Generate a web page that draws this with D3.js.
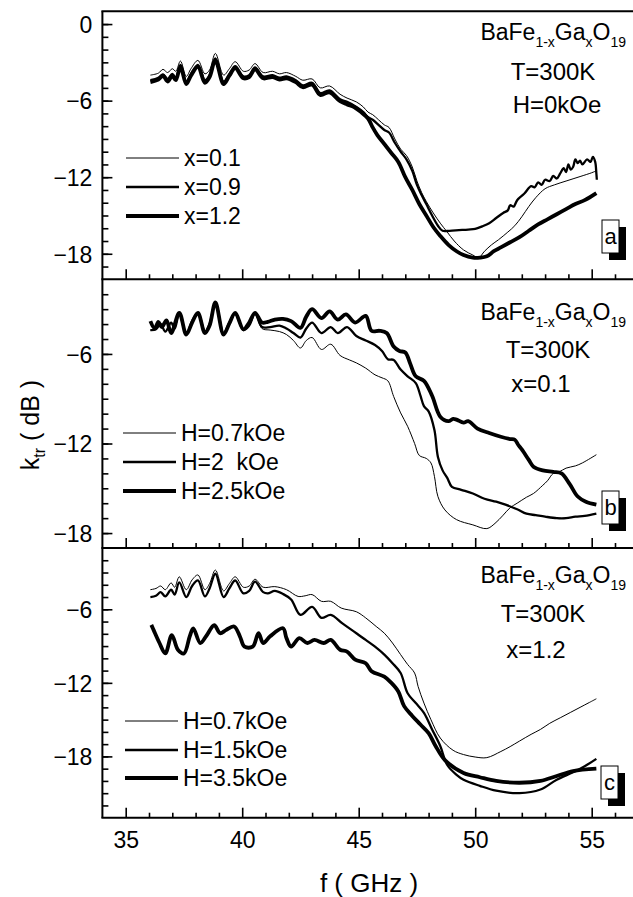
<!DOCTYPE html>
<html><head><meta charset="utf-8">
<script src="https://cdn.jsdelivr.net/npm/d3@7"></script>
<style>body{margin:0;background:#fff}svg text{font-family:"Liberation Sans",Arial,sans-serif;fill:#000}</style>
</head><body>
<svg id="chart" width="633" height="897"></svg>
<script>
// ---------------- DATA ----------------
const xTickValues = [35, 40, 45, 50, 55];
const xMinorTicks = d3.range(35, 57, 1);
const yTicksA = [0, -6, -12, -18];
const yTicksB = [-6, -12, -18];
const yTicksC = [-6, -12, -18];

const legendA = ["x=0.1", "x=0.9", "x=1.2"];
const legendB = ["H=0.7kOe", "H=2  kOe", "H=2.5kOe"];
const legendC = ["H=0.7kOe", "H=1.5kOe", "H=3.5kOe"];
const thirdLineA = "H=0kOe";
const thirdLineB = "x=0.1";
const thirdLineC = "x=1.2";
const panelLetters = ["a", "b", "c"];

// Panel a : H = 0 kOe
const a_x01 = [[36.06,-4.0],[36.4,-3.85],[36.6,-3.55],[36.8,-3.8],[37.0,-3.5],[37.15,-3.7],[37.35,-2.9],[37.6,-4.1],[37.8,-3.5],[38.1,-2.85],[38.4,-3.9],[38.6,-3.6],[38.85,-2.3],[39.2,-4.0],[39.45,-3.5],[39.7,-2.95],[40.05,-3.7],[40.3,-3.6],[40.55,-3.1],[40.9,-3.8],[41.3,-3.7],[41.6,-3.9],[41.9,-3.8],[42.3,-4.1],[42.6,-4.4],[43.0,-4.3],[43.35,-5.0],[43.75,-4.85],[44.2,-5.5],[44.5,-5.8],[44.9,-6.1],[45.2,-6.5],[45.4,-6.9],[45.6,-7.1],[45.85,-7.5],[46.1,-7.9],[46.3,-8.1],[46.55,-9.0],[46.8,-9.8],[47.05,-10.3],[47.3,-11.2],[47.5,-12.3],[47.7,-13.2],[47.9,-13.9],[48.2,-14.8],[48.5,-15.6],[48.8,-16.3],[49.1,-17.0],[49.5,-17.7],[49.9,-18.1],[50.15,-18.3],[50.4,-17.8],[50.7,-17.3],[51.0,-16.9],[51.4,-16.3],[51.7,-15.8],[52.0,-15.1],[52.3,-14.3],[52.6,-13.6],[53.0,-12.9],[53.4,-12.6],[53.9,-12.3],[54.5,-11.95],[55.0,-11.65],[55.2,-11.5]];
const a_x09 = [[36.06,-4.4],[36.4,-4.2],[36.6,-3.95],[36.8,-4.3],[37.0,-3.9],[37.15,-4.2],[37.35,-3.2],[37.6,-4.5],[37.8,-3.9],[38.1,-3.2],[38.4,-4.4],[38.6,-4.0],[38.85,-2.7],[39.2,-4.5],[39.45,-3.9],[39.7,-3.3],[40.05,-4.1],[40.3,-4.0],[40.55,-3.4],[40.9,-4.1],[41.3,-4.0],[41.6,-4.2],[41.9,-4.1],[42.3,-4.4],[42.6,-4.8],[43.0,-4.6],[43.35,-5.4],[43.75,-5.2],[44.2,-5.9],[44.5,-6.1],[44.9,-6.5],[45.2,-6.9],[45.4,-7.3],[45.6,-7.5],[45.85,-7.9],[46.1,-8.3],[46.3,-8.5],[46.55,-9.3],[46.8,-10.0],[47.05,-10.6],[47.3,-11.5],[47.5,-12.6],[47.7,-13.4],[47.9,-14.1],[48.15,-15.0],[48.4,-15.8],[48.6,-16.2],[48.9,-16.2],[49.3,-16.15],[49.7,-16.1],[50.0,-16.05],[50.3,-15.85],[50.6,-15.6],[50.9,-15.2],[51.2,-14.8],[51.4,-14.6],[51.5,-14.2],[51.65,-14.3],[51.8,-13.8],[52.1,-13.3],[52.4,-12.7],[52.55,-12.8],[52.7,-12.4],[52.85,-12.6],[53.0,-12.2],[53.2,-12.3],[53.35,-11.9],[53.5,-12.1],[53.65,-11.7],[53.8,-11.3],[53.9,-11.6],[54.0,-11.0],[54.1,-11.4],[54.2,-11.2],[54.3,-10.6],[54.4,-10.9],[54.5,-10.7],[54.6,-11.0],[54.8,-10.6],[54.95,-10.8],[55.05,-10.4],[55.15,-10.8],[55.2,-11.7],[55.22,-12.2]];
const a_x12 = [[36.06,-4.55],[36.4,-4.35],[36.6,-4.05],[36.8,-4.5],[37.0,-4.05],[37.15,-4.4],[37.35,-3.35],[37.6,-4.7],[37.8,-4.05],[38.1,-3.35],[38.4,-4.6],[38.6,-4.15],[38.85,-2.85],[39.2,-4.7],[39.45,-4.05],[39.7,-3.45],[40.05,-4.25],[40.3,-4.15],[40.55,-3.55],[40.9,-4.25],[41.3,-4.15],[41.6,-4.35],[41.9,-4.25],[42.3,-4.55],[42.6,-4.95],[43.0,-4.75],[43.35,-5.55],[43.75,-5.35],[44.2,-6.05],[44.5,-6.3],[44.8,-6.5],[45.1,-6.9],[45.4,-7.4],[45.6,-8.1],[45.8,-8.7],[46.1,-9.4],[46.4,-10.1],[46.7,-10.8],[47.0,-12.0],[47.3,-13.0],[47.6,-14.1],[47.9,-15.0],[48.2,-15.9],[48.5,-16.6],[48.85,-17.3],[49.2,-17.8],[49.5,-18.1],[49.9,-18.3],[50.2,-18.3],[50.5,-18.2],[50.8,-17.8],[51.1,-17.5],[51.5,-17.1],[51.9,-16.7],[52.3,-16.2],[52.7,-15.7],[53.1,-15.3],[53.5,-14.9],[53.9,-14.5],[54.3,-14.1],[54.7,-13.8],[55.2,-13.25]];

// Panel b : x = 0.1
const b_h07 = [[36.06,-4.4],[36.3,-4.35],[36.5,-4.0],[36.7,-4.5],[36.95,-3.9],[37.1,-4.3],[37.3,-3.3],[37.6,-4.7],[37.85,-3.8],[38.1,-3.25],[38.4,-4.5],[38.6,-4.0],[38.85,-2.55],[39.2,-4.6],[39.45,-3.9],[39.7,-3.3],[40.05,-4.4],[40.3,-4.1],[40.55,-3.3],[40.85,-4.3],[41.2,-4.4],[41.6,-4.5],[41.9,-4.7],[42.2,-5.1],[42.5,-5.6],[42.75,-5.1],[43.0,-4.9],[43.4,-5.7],[43.8,-5.35],[44.2,-6.1],[44.6,-6.4],[44.9,-6.6],[45.3,-6.95],[45.7,-7.4],[46.0,-7.6],[46.25,-7.8],[46.5,-8.85],[46.8,-9.95],[47.1,-10.85],[47.4,-12.0],[47.6,-12.8],[47.9,-13.0],[48.1,-13.3],[48.25,-14.2],[48.4,-15.55],[48.7,-16.45],[49.2,-17.1],[49.9,-17.45],[50.5,-17.7],[50.85,-17.35],[51.2,-16.8],[51.5,-16.3],[51.8,-16.0],[52.2,-15.6],[52.5,-15.35],[52.9,-14.8],[53.1,-14.5],[53.35,-14.0],[53.6,-13.9],[53.9,-13.65],[54.3,-13.5],[54.6,-13.3],[55.2,-12.75]];
const b_h2 = [[36.06,-4.4],[36.3,-4.35],[36.5,-4.0],[36.7,-4.5],[36.95,-3.9],[37.1,-4.3],[37.3,-3.3],[37.6,-4.7],[37.85,-3.8],[38.1,-3.25],[38.4,-4.5],[38.6,-4.0],[38.85,-2.55],[39.2,-4.6],[39.45,-3.9],[39.7,-3.3],[40.05,-4.4],[40.3,-4.1],[40.55,-3.3],[40.85,-4.2],[41.2,-4.2],[41.6,-4.1],[41.9,-4.3],[42.2,-4.6],[42.5,-4.9],[42.75,-4.3],[43.0,-3.9],[43.4,-4.6],[43.8,-4.2],[44.1,-4.6],[44.5,-4.2],[44.9,-4.8],[45.3,-5.1],[45.7,-5.4],[46.0,-5.8],[46.25,-6.35],[46.5,-6.4],[46.8,-7.05],[47.1,-7.5],[47.45,-7.95],[47.65,-8.8],[47.8,-9.5],[48.0,-9.85],[48.25,-11.1],[48.4,-12.9],[48.6,-13.8],[48.8,-14.3],[49.0,-14.9],[49.4,-15.1],[49.9,-15.35],[50.4,-15.7],[50.9,-15.9],[51.3,-16.1],[51.8,-16.4],[52.2,-16.7],[52.6,-16.8],[53.0,-16.9],[53.5,-17.0],[53.9,-17.0],[54.3,-16.9],[54.7,-16.85],[55.2,-16.7]];
const b_h25 = [[36.06,-3.8],[36.25,-4.3],[36.4,-3.85],[36.55,-4.2],[36.75,-3.75],[36.95,-4.6],[37.3,-3.25],[37.6,-4.7],[37.85,-3.9],[38.1,-3.25],[38.4,-4.6],[38.6,-4.1],[38.85,-2.55],[39.2,-4.7],[39.45,-3.95],[39.7,-3.25],[40.05,-4.35],[40.3,-3.9],[40.55,-3.25],[40.85,-3.9],[41.1,-3.85],[41.4,-3.7],[41.75,-3.65],[42.1,-3.8],[42.5,-4.25],[42.75,-3.5],[43.0,-3.0],[43.4,-3.6],[43.75,-3.15],[44.1,-3.7],[44.45,-3.35],[44.85,-3.9],[45.3,-3.45],[45.55,-4.45],[45.9,-4.45],[46.2,-4.6],[46.5,-5.5],[46.75,-5.8],[47.0,-5.9],[47.2,-6.6],[47.45,-7.5],[47.8,-7.8],[48.15,-8.8],[48.5,-10.2],[48.85,-10.5],[49.05,-10.35],[49.2,-10.4],[49.5,-10.6],[49.7,-10.5],[50.1,-11.0],[50.6,-11.3],[51.1,-11.55],[51.5,-11.7],[51.7,-11.75],[51.85,-12.1],[52.0,-12.4],[52.3,-13.1],[52.5,-13.55],[52.9,-13.8],[53.35,-13.9],[53.7,-14.0],[54.05,-14.7],[54.4,-15.55],[54.75,-15.9],[55.2,-16.1]];

// Panel c : x = 1.2
const c_h07 = [[36.06,-4.4],[36.3,-4.3],[36.5,-4.1],[36.7,-4.4],[36.95,-3.85],[37.1,-4.2],[37.3,-3.35],[37.6,-4.4],[37.85,-3.6],[38.1,-3.2],[38.4,-4.4],[38.6,-3.9],[38.85,-2.8],[39.2,-4.5],[39.45,-3.9],[39.7,-3.35],[40.05,-4.2],[40.3,-4.1],[40.55,-3.55],[40.9,-4.2],[41.4,-4.15],[41.9,-4.4],[42.4,-4.95],[42.7,-4.9],[43.0,-4.8],[43.4,-5.35],[43.8,-5.35],[44.25,-5.9],[44.9,-6.2],[45.3,-6.7],[45.75,-7.4],[46.1,-7.95],[46.45,-8.75],[46.8,-9.7],[47.1,-10.5],[47.4,-11.2],[47.55,-12.3],[47.8,-13.65],[48.1,-15.0],[48.5,-16.5],[49.05,-17.5],[49.5,-17.85],[50.0,-18.05],[50.5,-18.1],[51.1,-17.6],[51.5,-17.2],[51.9,-16.75],[52.4,-16.2],[52.8,-15.8],[53.2,-15.3],[53.65,-14.85],[54.1,-14.4],[54.5,-14.0],[54.9,-13.6],[55.2,-13.3]];
const c_h15 = [[36.06,-5.0],[36.3,-4.9],[36.5,-4.6],[36.7,-4.95],[36.95,-4.4],[37.1,-4.8],[37.3,-3.8],[37.6,-5.0],[37.85,-4.1],[38.1,-3.65],[38.4,-4.95],[38.6,-4.3],[38.85,-3.1],[39.2,-5.0],[39.45,-4.3],[39.7,-3.65],[40.05,-4.7],[40.3,-4.5],[40.55,-3.75],[40.9,-4.6],[41.1,-4.7],[41.4,-4.5],[41.75,-4.75],[42.1,-5.2],[42.5,-6.45],[43.0,-5.8],[43.4,-6.7],[43.8,-6.45],[44.3,-7.15],[44.9,-7.95],[45.3,-8.5],[45.7,-9.05],[46.1,-9.7],[46.45,-10.4],[46.8,-11.2],[47.1,-12.85],[47.45,-13.65],[47.8,-14.45],[48.15,-15.8],[48.5,-17.15],[48.8,-18.7],[49.2,-19.5],[49.5,-19.9],[50.2,-20.4],[50.9,-20.8],[51.9,-21.0],[52.8,-20.7],[53.5,-19.9],[54.2,-19.3],[54.7,-18.8],[55.2,-18.2]];
const c_h35 = [[36.1,-7.27],[36.2,-7.7],[36.45,-8.75],[36.7,-9.6],[36.98,-8.1],[37.24,-9.3],[37.5,-9.6],[37.75,-8.2],[37.9,-7.55],[38.2,-8.75],[38.45,-8.2],[38.8,-7.3],[39.05,-7.95],[39.3,-7.7],[39.65,-7.4],[39.9,-8.2],[40.1,-9.05],[40.45,-9.05],[40.7,-7.95],[40.9,-8.75],[41.2,-8.2],[41.75,-7.55],[41.9,-8.35],[42.1,-9.05],[42.45,-8.35],[42.8,-8.75],[43.1,-8.5],[43.5,-8.75],[43.8,-8.5],[44.2,-9.3],[44.5,-9.45],[44.85,-10.1],[45.3,-10.4],[45.55,-11.05],[46.1,-11.5],[46.4,-12.0],[46.7,-12.7],[46.95,-13.9],[47.3,-14.7],[47.65,-15.4],[48.0,-16.1],[48.3,-17.15],[48.7,-18.3],[49.5,-19.35],[50.2,-19.7],[50.9,-20.0],[51.9,-20.15],[52.8,-20.0],[53.5,-19.6],[54.2,-19.2],[55.2,-19.0]];

// ---------------- LAYOUT ----------------
const svg = d3.select("#chart");
const W = 633;
const frameLeft = 102.4;
const x = d3.scaleLinear().domain([34, 57]).range([frameLeft, frameLeft + 23 * 23.3]);
const widths = [1, 2.3, 3.8];

const panels = [
  { top: 11.3, bottom: 279.3, domain: [-20, 1], majors: yTicksA, series: [a_x01, a_x09, a_x12], legend: legendA,
    legY: [158, 187, 216], legX: 126, head: [40, 80, 113], tCx: 553, third: thirdLineA, thCx: 557, box: [602, 220] },
  { top: 279.3, bottom: 548, domain: [-19, -1], majors: yTicksB, series: [b_h07, b_h2, b_h25], legend: legendB,
    legY: [433, 462, 491], legX: 123, head: [320, 358, 392], tCx: 548, third: thirdLineB, thCx: 541, box: [602, 491] },
  { top: 548, bottom: 817.7, domain: [-23, -1], majors: yTicksC, series: [c_h07, c_h15, c_h35], legend: legendC,
    legY: [721, 750, 778], legX: 125, head: [583, 622, 658], tCx: 543, third: thirdLineC, thCx: 536, box: [601, 766] }
];

panels.forEach((p, i) => {
  const y = d3.scaleLinear().domain(p.domain).range([p.bottom, p.top]);
  const g = svg.append("g");
  const clipId = "clip" + i;
  svg.append("clipPath").attr("id", clipId).append("rect")
    .attr("x", frameLeft).attr("y", p.top).attr("width", W - frameLeft).attr("height", p.bottom - p.top);

  const minor = d3.range(Math.ceil(p.domain[0]), Math.floor(p.domain[1]) + 1).filter(v => v > p.domain[0] && v < p.domain[1]);
  g.append("g").attr("transform", `translate(${frameLeft},0)`)
    .call(d3.axisLeft(y).tickValues(minor).tickSize(-6).tickFormat(""))
    .call(s => s.select(".domain").remove())
    .selectAll("line").attr("stroke", "#000").attr("stroke-width", 1.6);
  g.append("g").attr("transform", `translate(${frameLeft},0)`)
    .call(d3.axisLeft(y).tickValues(p.majors).tickSize(-10).tickPadding(10).tickFormat(d3.format("d")))
    .call(s => s.select(".domain").remove())
    .call(s => s.selectAll("line").attr("stroke", "#000").attr("stroke-width", 1.6))
    .call(s => s.selectAll("text").attr("font-size", 23).attr("font-family", "Liberation Sans, Arial, sans-serif").attr("fill", "#000").attr("dy", "0.36em"));

  g.append("g").attr("transform", `translate(0,${p.bottom})`)
    .call(d3.axisBottom(x).tickValues(xMinorTicks.filter(v => v % 5 !== 0)).tickSize(-5).tickFormat(""))
    .call(s => s.select(".domain").remove())
    .selectAll("line").attr("stroke", "#000").attr("stroke-width", 1.6);
  const bx = g.append("g").attr("transform", `translate(0,${p.bottom})`)
    .call(d3.axisBottom(x).tickValues(xTickValues).tickSize(-10).tickPadding(14).tickFormat(i === 2 ? d3.format("d") : ""))
    .call(s => s.select(".domain").remove());
  bx.selectAll("line").attr("stroke", "#000").attr("stroke-width", 1.6);
  bx.selectAll("text").attr("font-size", 23).attr("font-family", "Liberation Sans, Arial, sans-serif").attr("fill", "#000").attr("dy", "0.71em");

  const line = d3.line().x(d => x(d[0])).y(d => y(d[1])).curve(d3.curveCatmullRom.alpha(0.5));
  const cg = g.append("g").attr("clip-path", `url(#${clipId})`);
  p.series.forEach((s, k) => {
    cg.append("path").datum(s).attr("d", line).attr("fill", "none").attr("stroke", "#000")
      .attr("stroke-width", widths[k]).attr("stroke-linejoin", "round");
  });

  p.legend.forEach((lab, k) => {
    g.append("line").attr("x1", p.legX).attr("x2", p.legX + 53).attr("y1", p.legY[k]).attr("y2", p.legY[k])
      .attr("stroke", "#000").attr("stroke-width", widths[k]);
    g.append("text").attr("x", p.legX + 58).attr("y", p.legY[k] + 8).attr("font-size", 23)
      .attr("xml:space", "preserve").style("white-space", "pre").text(lab);
  });

  const t = g.append("text").attr("x", 626).attr("y", p.head[0]).attr("text-anchor", "end").attr("font-size", 23);
  t.append("tspan").text("BaFe");
  t.append("tspan").attr("font-size", 14).attr("dy", 7).text("1-x");
  t.append("tspan").attr("dy", -7).text("Ga");
  t.append("tspan").attr("font-size", 14).attr("dy", 7).text("x");
  t.append("tspan").attr("dy", -7).text("O");
  t.append("tspan").attr("font-size", 14).attr("dy", 7).text("19");
  g.append("text").attr("x", p.tCx).attr("y", p.head[1]).attr("text-anchor", "middle").attr("font-size", 24).text("T=300K");
  g.append("text").attr("x", p.thCx).attr("y", p.head[2]).attr("text-anchor", "middle").attr("font-size", 24).text(p.third);

  g.append("rect").attr("x", p.box[0] + 7).attr("y", p.box[1] + 7).attr("width", 17).attr("height", 33).attr("fill", "#000");
  g.append("rect").attr("x", p.box[0]).attr("y", p.box[1]).attr("width", 17).attr("height", 33)
    .attr("fill", "#fff").attr("stroke", "#000").attr("stroke-width", 1);
  g.append("text").attr("x", p.box[0] + 8.5).attr("y", p.box[1] + 24).attr("text-anchor", "middle")
    .attr("font-size", 22).text(panelLetters[i]);
});

const frame = svg.append("g").attr("stroke", "#000").attr("stroke-width", 2).attr("fill", "none");
frame.append("line").attr("x1", frameLeft).attr("x2", frameLeft).attr("y1", panels[0].top).attr("y2", panels[2].bottom);
[panels[0].top, panels[0].bottom, panels[1].bottom, panels[2].bottom].forEach(yy => {
  frame.append("line").attr("x1", frameLeft - 1).attr("x2", W).attr("y1", yy).attr("y2", yy);
});

svg.append("text").attr("x", 369).attr("y", 892).attr("text-anchor", "middle").attr("font-size", 26).text("f ( GHz )");
const yt = svg.append("text").attr("transform", "translate(39,425) rotate(-90)").attr("text-anchor", "middle").attr("font-size", 25);
yt.append("tspan").text("k");
yt.append("tspan").attr("font-size", 16).attr("dy", 6).text("tr");
yt.append("tspan").attr("dy", -6).attr("xml:space", "preserve").style("white-space", "pre").text(" ( dB )");
</script>
</body></html>
